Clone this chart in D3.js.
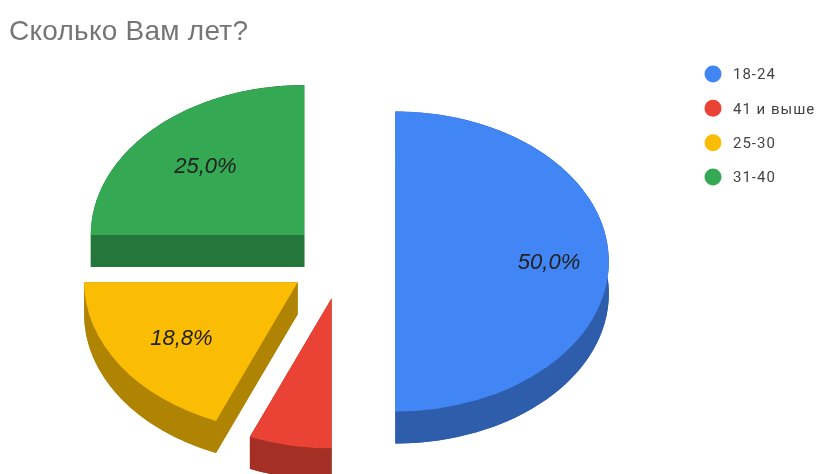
<!DOCTYPE html>
<meta charset="utf-8">
<html>
  <head>
    <title>Сколько Вам лет?</title>
    <script src="https://d3js.org/d3.v7.min.js"></script>
    <style>
      html, body {
        margin: 0;
        padding: 0;
        background: #fff;
      }
      svg {
        display: block;
        filter: blur(0.45px); /* the reference is a soft, upscaled screenshot */
      }
      .title {
        font-family: "Liberation Sans", Arial, sans-serif;
        font-size: 28px;
        letter-spacing: 0.25px;
        fill: #757575;
      }
      .legend-label {
        font-family: Roboto, Arial, sans-serif;
        font-size: 15px;
        letter-spacing: 1px;
        fill: #444;
      }
      .slice-label {
        font-family: "Liberation Sans", Arial, sans-serif;
        font-size: 22px;
        font-style: italic;
        fill: #222;
        text-anchor: middle;
      }
    </style>
  </head>
  <body>
    <svg id="chart"></svg>

    <script>
      const titleText = "Сколько Вам лет?";
      const categories = ["18-24", "41 и выше", "25-30", "31-40"];
      const counts = [8, 1, 3, 4];
      const colors = ["#4285f4", "#ea4335", "#fbbc04", "#34a853"];

      const width = 817;
      const height = 474;

      // pie geometry
      const cx = 342, cy = 261.5;
      const rx = 213.5, ry = 150;
      const depth = 32;
      const explode = 53.3;
      const minLabelShare = 0.1;

      const svg = d3.select("#chart")
                    .attr("width", width)
                    .attr("height", height);

      svg.append("text")
         .attr("class", "title")
         .attr("x", 9)
         .attr("y", 40)
         .text(titleText);

      const color = d3.scaleOrdinal().domain(categories).range(colors);
      const total = d3.sum(counts);

      const pie = d3.pie().sort(null).value(d => d.count);
      const arc = d3.arc().innerRadius(0).outerRadius(rx);

      const slices = pie(categories.map((name, i) => ({name, count: counts[i]})));

      // point on the ellipse, angle clockwise from 12 o'clock
      const pt = (a, r = 1) => [r * rx * Math.sin(a), -r * ry * Math.cos(a)];
      const line = d3.line();

      const g = svg.selectAll("g.slice")
                   .data(slices)
                   .enter()
                   .append("g")
                     .attr("class", "slice")
                     .attr("transform", d => {
                       const mid = (d.startAngle + d.endAngle) / 2;
                       const o = pt(mid, explode / rx);
                       // the offset follows the tilt of the ellipse
                       return `translate(${cx + o[0]},${cy + o[1]})`;
                     });

      // side walls: lower copy of the sector, outer band, two cut faces
      g.each(function(d) {
        const wall = d3.select(this).append("g")
                       .attr("fill", d3.rgb(color(d.data.name)).darker(1));

        wall.append("path")
            .attr("transform", `translate(0,${depth}) scale(1,${ry / rx})`)
            .attr("d", arc(d));

        const top = d3.range(d.startAngle, d.endAngle, 0.01).concat(d.endAngle).map(a => pt(a));
        const bottom = top.map(p => [p[0], p[1] + depth]).reverse();
        wall.append("path").attr("d", line(top.concat(bottom)) + "Z");

        [d.startAngle, d.endAngle].forEach(a => {
          const p = pt(a);
          wall.append("path")
              .attr("d", line([[0, 0], p, [p[0], p[1] + depth], [0, depth]]) + "Z");
        });
      });

      // top faces
      g.append("path")
       .attr("transform", `scale(1,${ry / rx})`)
       .attr("fill", d => color(d.data.name))
       .attr("d", arc);

      // the half slice has its label further out
      const labelRadius = d => (d.endAngle - d.startAngle) >= Math.PI ? 0.72 : 0.655;

      g.filter(d => d.data.count / total >= minLabelShare)
       .append("text")
         .attr("class", "slice-label")
         .attr("x", d => pt((d.startAngle + d.endAngle) / 2, labelRadius(d))[0])
         .attr("y", d => pt((d.startAngle + d.endAngle) / 2, labelRadius(d))[1])
         .attr("dy", "0.35em")
         .text(d => (d.data.count / total * 100).toFixed(1).replace(".", ",") + "%");

      // legend
      const legendY = d3.scalePoint().domain(categories).range([74, 177]);

      const legend = svg.selectAll("g.legend")
                        .data(categories)
                        .enter()
                        .append("g")
                          .attr("class", "legend")
                          .attr("transform", d => `translate(713,${legendY(d)})`);

      legend.append("circle")
            .attr("r", 8.5)
            .attr("fill", d => color(d));

      legend.append("text")
            .attr("class", "legend-label")
            .attr("x", 20)
            .attr("dy", "0.35em")
            .text(d => d);
    </script>
  </body>
</html>
